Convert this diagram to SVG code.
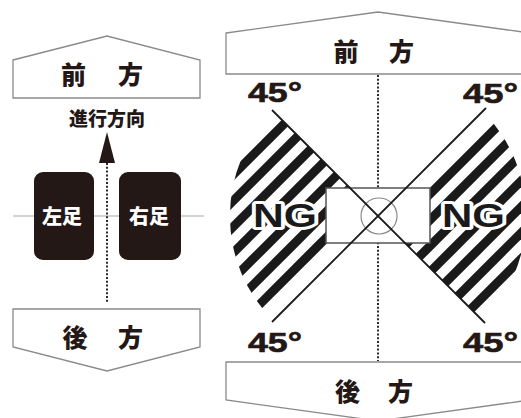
<svg xmlns="http://www.w3.org/2000/svg" width="521" height="418" viewBox="0 0 521 418">
<style>
.pent{fill:#fff;stroke:#8a8a8a;stroke-width:1.3}
.jp{font-family:"Noto Sans CJK JP","Noto Sans CJK SC",sans-serif;font-weight:900;fill:#231815;text-anchor:middle;dominant-baseline:central}
.foot{fill:#231815}
.foottxt{font-family:"Noto Sans CJK JP","Noto Sans CJK SC",sans-serif;font-weight:900;fill:#fff;text-anchor:middle;dominant-baseline:central;font-size:20px}
.deg{font-family:"Liberation Sans",Arial,sans-serif;font-weight:700;font-size:28px;fill:#231815;stroke:#231815;stroke-width:0.6}
.ng{font-family:"Liberation Sans",Arial,sans-serif;font-weight:700;font-size:33px;fill:#1a1a1a;stroke:#fff;stroke-width:6;paint-order:stroke;stroke-linejoin:round}
.dot{stroke:#2a2a2a;stroke-width:2;stroke-dasharray:2 1.8;fill:none}
.diag{stroke:#1a1a1a;stroke-width:1.8;fill:none}
.stripe{stroke:#1a1a1a;stroke-width:9}
</style>
<defs>
<clipPath id="clipL"><path d="M378,216 L273.3,111.3 A148,148 0 0 0 273.3,320.7 Z"/></clipPath>
<clipPath id="clipR"><path d="M378,216 L482.7,111.3 A148,148 0 0 1 482.7,320.7 Z"/></clipPath>
</defs>
<rect width="521" height="418" fill="#fff"/>

<!-- LEFT PANEL -->
<line x1="13" y1="216" x2="204" y2="216" stroke="#c4c4c4" stroke-width="1.5"/>
<g id="left-front">
<polygon class="pent" points="13,60 107,36 200,60 200,98 13,98"/>
<text class="jp" font-size="25" x="73.5 102 130.5" y="72.5">前 方</text>
</g>
<g id="direction-label">
<text class="jp" font-size="19" x="107" y="117.5">進行方向</text>
</g>
<g id="left-foot">
<rect class="foot" x="34" y="172" width="60" height="88" rx="9"/>
<text class="foottxt" x="62" y="215.5">左足</text>
</g>
<g id="right-foot">
<rect class="foot" x="119" y="172" width="62" height="88" rx="9"/>
<text class="foottxt" x="149" y="215.5">右足</text>
</g>
<g id="left-back">
<polygon class="pent" points="13,309 200,309 200,347 107,371 13,347"/>
<text class="jp" font-size="25" x="75 103 130.5" y="335.5">後 方</text>
</g>

<!-- RIGHT PANEL -->
<g id="hatch-left" clip-path="url(#clipL)">
<g class="stripe">
<line x1="8" y1="400" x2="408" y2="0"/>
<line x1="34" y1="400" x2="434" y2="0"/>
<line x1="60" y1="400" x2="460" y2="0"/>
<line x1="86" y1="400" x2="486" y2="0"/>
<line x1="112" y1="400" x2="512" y2="0"/>
<line x1="138" y1="400" x2="538" y2="0"/>
<line x1="164" y1="400" x2="564" y2="0"/>
</g>
</g>
<g id="hatch-right" clip-path="url(#clipR)">
<g class="stripe">
<line x1="224" y1="400" x2="624" y2="0"/>
<line x1="250" y1="400" x2="650" y2="0"/>
<line x1="276" y1="400" x2="676" y2="0"/>
<line x1="302" y1="400" x2="702" y2="0"/>
<line x1="328" y1="400" x2="728" y2="0"/>
<line x1="354" y1="400" x2="754" y2="0"/>
<line x1="380" y1="400" x2="780" y2="0"/>
</g>
</g>

<g id="right-front">
<polygon class="pent" points="226,33 378,12 530,33 530,74 226,74"/>
<text class="jp" font-size="25" x="346 374 401.5" y="49.5">前 方</text>
</g>
<g id="right-back">
<polygon class="pent" points="226,362 530,362 530,400 378,421 226,400"/>
<text class="jp" font-size="25" x="347.5 374 400.5" y="389.5">後 方</text>
</g>

<g id="connectors">
<line class="dot" x1="107" y1="163" x2="107" y2="303"/>
<polygon points="107,132 99,163 115,163" fill="#231815"/>
<line class="dot" x1="378" y1="75" x2="378" y2="361"/>
</g>

<g id="center-box">
<rect x="326" y="188" width="104" height="55" fill="#fff" stroke="#555" stroke-width="1.5"/>
<circle cx="379" cy="216" r="18" fill="none" stroke="#8a8a8a" stroke-width="1.2"/>
</g>

<g id="angle-lines">
<line class="diag" x1="272" y1="110" x2="485" y2="323"/>
<line class="diag" x1="486" y1="108" x2="272" y2="322"/>
</g>

<g id="angles">
<text class="deg" x="248" y="102" textLength="54" lengthAdjust="spacingAndGlyphs">45°</text>
<text class="deg" x="463" y="103" textLength="55" lengthAdjust="spacingAndGlyphs">45°</text>
<text class="deg" x="248" y="352" textLength="54" lengthAdjust="spacingAndGlyphs">45°</text>
<text class="deg" x="463" y="352" textLength="55" lengthAdjust="spacingAndGlyphs">45°</text>
</g>

<g id="ng-left">
<text class="ng" x="253" y="227" textLength="64" lengthAdjust="spacingAndGlyphs">NG</text>
</g>
<g id="ng-right">
<text class="ng" x="442" y="227" textLength="63" lengthAdjust="spacingAndGlyphs">NG</text>
</g>
</svg>
